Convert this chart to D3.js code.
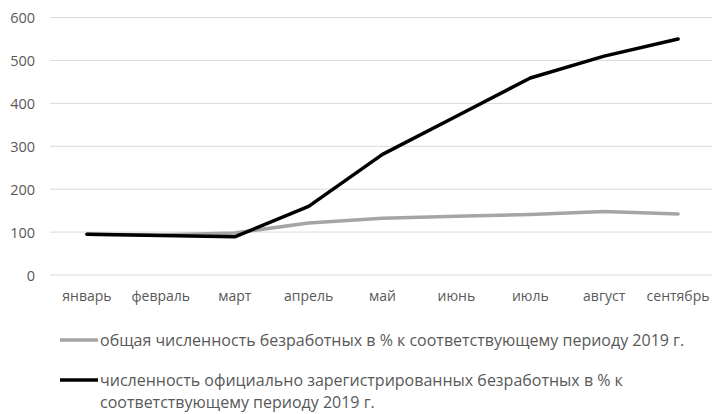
<!DOCTYPE html>
<html>
<head>
<meta charset="utf-8">
<script src="https://cdn.jsdelivr.net/npm/d3@7"></script>
<style>
  html, body { margin: 0; padding: 0; background: #fff; }
  svg { display: block; }
  text { font-family: "Open Sans", sans-serif; fill: #595959; }
</style>
</head>
<body>
<svg id="chart" width="712" height="414"></svg>
<script>
const months = ["январь", "февраль", "март", "апрель", "май", "июнь", "июль", "август", "сентябрь"];
const totalUnemployed = [95, 93, 98, 121, 132, 137, 141, 148, 142];
const registeredUnemployed = [95, 92, 89, 160, 281, 370, 459, 510, 550];
const yTicks = [0, 100, 200, 300, 400, 500, 600];
const legendLines = [
  ["общая численность безработных в % к соответствующему периоду 2019 г."],
  ["численность официально зарегистрированных безработных в % к", "соответствующему периоду 2019 г."]
];
const seriesColors = ["#a5a5a5", "#000000"];

const svg = d3.select("#chart");
const x = d3.scaleBand().domain(months).range([50, 715]);
const y = d3.scaleLinear().domain([0, 600]).range([275, 17.5]);

// gridlines
svg.append("g").selectAll("line").data(yTicks).join("line")
  .attr("x1", 50).attr("x2", 712)
  .attr("y1", d => y(d)).attr("y2", d => y(d))
  .attr("stroke", "#d9d9d9").attr("stroke-width", 1);

// y axis
const yAxis = svg.append("g").attr("transform", "translate(40,0)")
  .call(d3.axisLeft(y).tickValues(yTicks).tickSize(0).tickPadding(6));
yAxis.select(".domain").remove();
yAxis.selectAll("text").style("font-size", "14.5px").attr("fill", "#595959")
  .style("font-family", "'Open Sans', sans-serif").attr("dy", "0.35em").attr("x", -5);

// x axis
const xAxis = svg.append("g").attr("transform", "translate(0,290)")
  .call(d3.axisBottom(x).tickSize(0).tickPadding(0));
xAxis.select(".domain").remove();
xAxis.selectAll("text").style("font-size", "14px").attr("fill", "#595959")
  .style("font-family", "'Open Sans', sans-serif").attr("dy", "0.8em");

const line = d3.line()
  .x((d, i) => x(months[i]) + x.bandwidth() / 2)
  .y(d => y(d));

[totalUnemployed, registeredUnemployed].forEach((s, k) => {
  svg.append("path").datum(s)
    .attr("d", line)
    .attr("fill", "none")
    .attr("stroke", seriesColors[k])
    .attr("stroke-width", 3.5)
    .attr("stroke-linejoin", "round")
    .attr("stroke-linecap", "round");
});

// legend
const legendY = [340, 380];
legendLines.forEach((lines, k) => {
  const g = svg.append("g");
  g.append("line").attr("x1", 60).attr("x2", 98)
    .attr("y1", legendY[k]).attr("y2", legendY[k])
    .attr("stroke", seriesColors[k]).attr("stroke-width", 3.5);
  lines.forEach((t, j) => {
    g.append("text").attr("x", 100).attr("y", legendY[k] + j * 22)
      .attr("dy", "0.35em").style("font-size", "16px").text(t);
  });
});
</script>
</body>
</html>
